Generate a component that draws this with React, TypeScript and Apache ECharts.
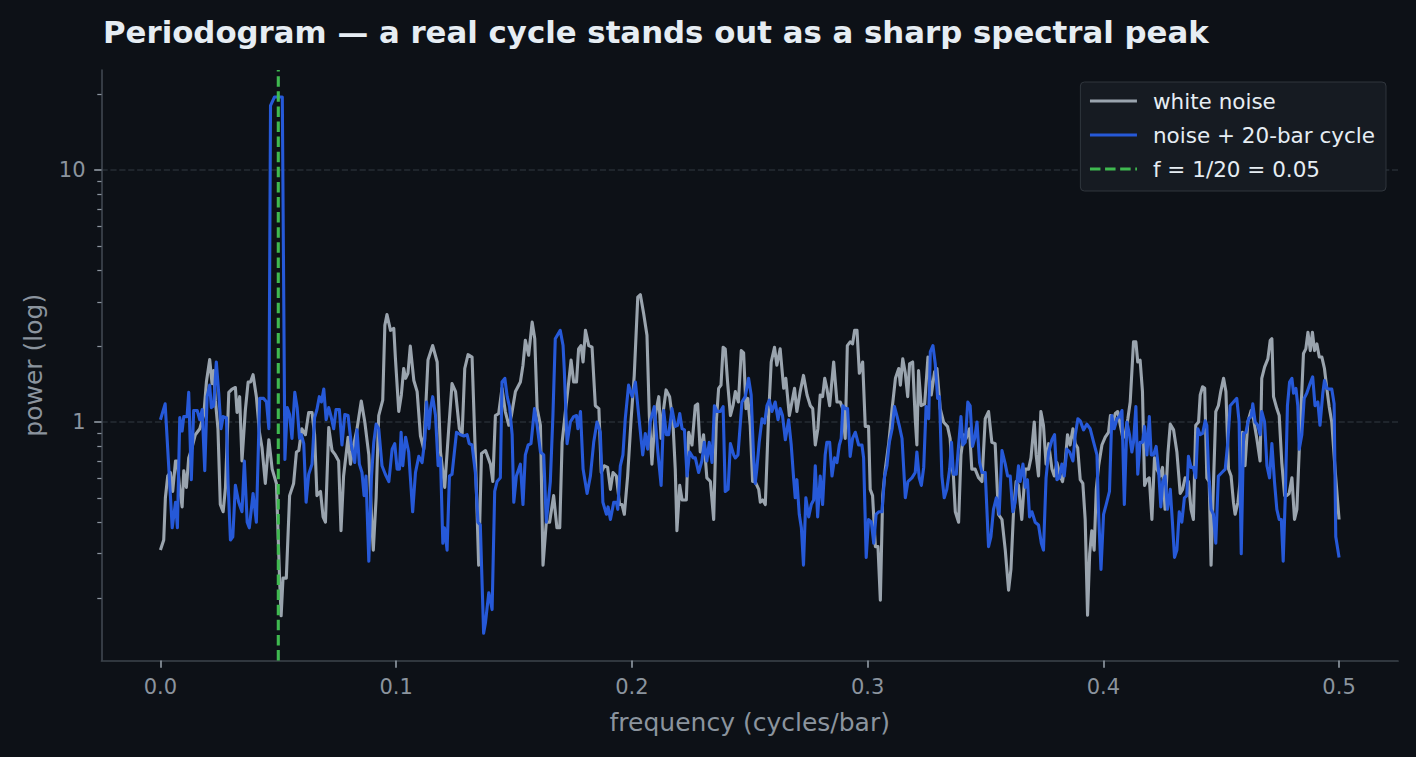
import React, { useEffect, useRef } from "react";
import * as echarts from "echarts";

// ---- data ----
const whiteFreq = [
  0.0, 0.0014, 0.0021, 0.0031, 0.0042, 0.0052, 0.0064, 0.0071, 0.0082, 0.0092, 0.0099, 0.011, 0.012, 0.0134, 0.0148,
  0.0167, 0.0184, 0.0195, 0.0209, 0.0219, 0.0226, 0.0233, 0.0244, 0.0254, 0.0266, 0.0276, 0.029, 0.0304, 0.0318, 0.0325,
  0.0336, 0.0346, 0.036, 0.0372, 0.0382, 0.0393, 0.0407, 0.042, 0.0431, 0.0445, 0.046, 0.0474, 0.0492, 0.0506, 0.0512,
  0.052, 0.0534, 0.0548, 0.0565, 0.0577, 0.0587, 0.06, 0.0615, 0.0629, 0.0643, 0.0654, 0.0664, 0.0679, 0.069, 0.07,
  0.0714, 0.0728, 0.0742, 0.0756, 0.0766, 0.0777, 0.0796, 0.0806, 0.0816, 0.0834, 0.0852, 0.0867, 0.0884, 0.0895, 0.0903,
  0.0915, 0.0926, 0.0943, 0.0952, 0.0961, 0.0976, 0.099, 0.0997, 0.1011, 0.1022, 0.1032, 0.104, 0.105, 0.106, 0.1075,
  0.1089, 0.1103, 0.1117, 0.1135, 0.1155, 0.1174, 0.1188, 0.1206, 0.1223, 0.1237, 0.1252, 0.1268, 0.128, 0.1291, 0.1305,
  0.1322, 0.1336, 0.135, 0.1362, 0.1379, 0.14, 0.141, 0.1421, 0.1435, 0.1449, 0.1463, 0.1478, 0.1489, 0.1506, 0.1527,
  0.1538, 0.1548, 0.1562, 0.1577, 0.1588, 0.1598, 0.1612, 0.1623, 0.1637, 0.1651, 0.1668, 0.1682, 0.1694, 0.1704, 0.1718,
  0.1732, 0.1742, 0.1753, 0.1765, 0.1774, 0.1784, 0.1793, 0.1803, 0.1817, 0.1831, 0.1845, 0.186, 0.187, 0.1883, 0.1897,
  0.1909, 0.192, 0.1934, 0.1948, 0.1958, 0.1968, 0.1982, 0.1996, 0.201, 0.2025, 0.2036, 0.205, 0.2064, 0.2074, 0.2085,
  0.2099, 0.2114, 0.2124, 0.2132, 0.2145, 0.216, 0.2174, 0.2184, 0.2191, 0.2203, 0.2213, 0.2231, 0.2241, 0.2255, 0.2269,
  0.2279, 0.229, 0.2304, 0.2318, 0.2333, 0.2347, 0.2358, 0.2368, 0.2378, 0.2387, 0.2396, 0.2406, 0.2418, 0.2429, 0.2439,
  0.2452, 0.2464, 0.2474, 0.2484, 0.2492, 0.2502, 0.2512, 0.2523, 0.2538, 0.2545, 0.2555, 0.2566, 0.258, 0.2591, 0.2605,
  0.2615, 0.2629, 0.2644, 0.2653, 0.2668, 0.2679, 0.269, 0.27, 0.2714, 0.2728, 0.2743, 0.2757, 0.2767, 0.2778, 0.2789,
  0.2799, 0.2809, 0.2818, 0.2827, 0.2839, 0.2856, 0.287, 0.2884, 0.2894, 0.2905, 0.2914, 0.2926, 0.2936, 0.2945, 0.2955,
  0.2965, 0.2979, 0.299, 0.3004, 0.3011, 0.3021, 0.3033, 0.3044, 0.3054, 0.3064, 0.3075, 0.309, 0.3104, 0.3118, 0.3132,
  0.3139, 0.3149, 0.316, 0.317, 0.3178, 0.3191, 0.3202, 0.3209, 0.3216, 0.3227, 0.3242, 0.3256, 0.327, 0.3284, 0.3294,
  0.3308, 0.3322, 0.3339, 0.335, 0.3357, 0.3364, 0.3372, 0.3386, 0.3396, 0.3407, 0.3418, 0.3432, 0.3442, 0.3456, 0.3471,
  0.3485, 0.3499, 0.3513, 0.3527, 0.3541, 0.3555, 0.357, 0.3584, 0.3598, 0.3608, 0.3619, 0.363, 0.364, 0.3654, 0.3669,
  0.3683, 0.3693, 0.3707, 0.3715, 0.3725, 0.3735, 0.3746, 0.3757, 0.3768, 0.3782, 0.3792, 0.3803, 0.3817, 0.3827, 0.3838,
  0.3848, 0.3859, 0.3871, 0.3881, 0.3891, 0.3902, 0.3913, 0.3923, 0.3933, 0.3942, 0.3951, 0.3961, 0.397, 0.398, 0.3994,
  0.4008, 0.4022, 0.403, 0.4041, 0.4051, 0.4061, 0.4072, 0.4083, 0.4093, 0.4104, 0.4114, 0.4128, 0.4138, 0.4146, 0.4156,
  0.4166, 0.4175, 0.4185, 0.4195, 0.4206, 0.4217, 0.4227, 0.4241, 0.4251, 0.4262, 0.4274, 0.4284, 0.4298, 0.4312, 0.4326,
  0.4336, 0.4347, 0.4361, 0.4372, 0.4382, 0.4392, 0.4404, 0.4411, 0.4421, 0.443, 0.4439, 0.4449, 0.4457, 0.4467, 0.4477,
  0.4488, 0.4498, 0.451, 0.452, 0.4531, 0.4542, 0.4552, 0.4559, 0.4571, 0.458, 0.459, 0.4601, 0.4613, 0.4627, 0.4637,
  0.4651, 0.4665, 0.4672, 0.4684, 0.4698, 0.4708, 0.4715, 0.4722, 0.4736, 0.4746, 0.4757, 0.4769, 0.4778, 0.4788, 0.48,
  0.4811, 0.4821, 0.4831, 0.484, 0.4849, 0.4859, 0.4868, 0.4878, 0.4887, 0.4896, 0.4906, 0.4916, 0.4927, 0.4938, 0.4948,
  0.4958, 0.4969, 0.4983, 0.5,
];
const whitePower = [
  0.31, 0.34, 0.5, 0.61, 0.63, 0.53, 0.7, 0.7, 0.54, 0.46, 0.64, 0.55, 0.72, 0.79, 0.89,
  0.94, 1.07, 1.44, 1.77, 1.42, 1.6, 1.22, 0.94, 0.47, 0.44, 0.55, 1.31, 1.35, 1.37, 1.09,
  1.26, 0.7, 1.11, 1.44, 1.44, 1.54, 1.26, 0.91, 0.79, 0.57, 0.85, 0.65, 0.57, 0.23, 0.17,
  0.24, 0.24, 0.51, 0.57, 0.76, 0.77, 0.94, 0.89, 1.09, 1.09, 0.89, 0.51, 0.53, 0.42, 0.4,
  0.95, 0.77, 0.74, 0.7, 0.37, 0.61, 0.87, 0.68, 0.78, 0.94, 1.21, 1.0, 0.74, 0.43, 0.31,
  0.5, 1.06, 1.22, 2.42, 2.67, 2.31, 2.35, 1.78, 1.1, 1.28, 1.63, 1.49, 1.56, 2.0, 1.46,
  1.32, 0.88, 0.78, 1.76, 2.01, 1.73, 0.76, 0.55, 0.94, 1.42, 1.32, 0.94, 0.9, 1.63, 1.85,
  1.81, 0.74, 0.27, 0.75, 0.77, 0.68, 0.58, 1.06, 1.08, 1.36, 1.1, 0.97, 1.06, 1.32, 1.44,
  1.68, 2.11, 1.84, 2.49, 2.14, 1.13, 0.97, 0.27, 0.4, 0.4, 0.51, 0.38, 0.38, 0.83, 1.1,
  1.44, 1.76, 1.44, 1.44, 1.95, 2.01, 1.73, 2.31, 2.01, 1.98, 1.16, 1.13, 0.63, 0.67, 0.66,
  0.54, 0.63, 0.61, 0.47, 0.47, 0.43, 0.61, 1.0, 1.53, 3.13, 3.2, 2.69, 2.21, 1.06, 0.68,
  1.06, 1.26, 0.86, 1.08, 1.34, 1.26, 1.0, 0.65, 0.37, 0.56, 0.49, 0.49, 0.91, 0.81, 1.16,
  1.18, 0.76, 0.89, 0.6, 0.58, 0.41, 1.0, 1.36, 1.4, 1.98, 1.95, 1.44, 1.06, 1.16, 1.32,
  1.2, 1.92, 1.88, 1.13, 1.24, 0.97, 0.58, 0.58, 0.54, 0.48, 0.49, 0.47, 1.06, 1.73, 1.98,
  1.68, 1.95, 1.36, 1.49, 1.06, 1.2, 1.36, 1.1, 1.32, 1.53, 1.28, 1.16, 1.13, 0.81, 0.94,
  1.28, 1.26, 1.49, 1.36, 1.16, 1.73, 1.2, 1.2, 1.13, 0.86, 2.01, 2.08, 2.04, 2.31, 2.31,
  1.56, 1.73, 0.96, 0.96, 0.54, 0.51, 0.32, 0.32, 0.196, 0.51, 0.65, 0.83, 1.13, 1.49, 1.63,
  1.4, 1.78, 1.56, 1.26, 1.7, 1.73, 1.03, 0.81, 1.6, 1.16, 1.18, 1.81, 1.28, 1.58, 1.63,
  1.13, 1.0, 0.96, 0.86, 0.67, 0.61, 0.44, 0.4, 0.74, 0.89, 0.86, 0.94, 0.65, 0.65, 0.6,
  0.58, 1.03, 1.1, 0.83, 0.82, 0.43, 0.41, 0.31, 0.215, 0.26, 0.44, 0.58, 0.56, 0.41, 0.65,
  0.65, 0.72, 1.0, 0.74, 0.61, 1.1, 0.97, 0.68, 0.82, 0.65, 0.61, 0.69, 0.61, 0.58, 0.69,
  0.89, 0.81, 0.94, 0.82, 0.79, 0.59, 0.57, 0.41, 0.171, 0.3, 0.37, 0.31, 0.54, 0.67, 0.81,
  0.87, 0.91, 1.06, 1.0, 1.08, 1.1, 0.97, 0.86, 0.9, 1.03, 1.2, 2.08, 2.08, 1.73, 1.76,
  1.32, 0.56, 0.59, 0.6, 0.41, 0.72, 0.65, 0.61, 0.66, 0.45, 0.75, 0.98, 0.93, 0.76, 0.52,
  0.54, 0.6, 0.58, 0.45, 0.41, 0.97, 1.0, 1.28, 1.38, 1.36, 0.6, 0.58, 0.27, 0.56, 1.1,
  1.16, 1.32, 1.49, 1.32, 0.65, 0.61, 0.48, 0.43, 0.48, 0.58, 0.91, 0.67, 1.0, 1.11, 1.03,
  0.86, 0.7, 1.49, 1.65, 1.78, 2.11, 2.14, 1.26, 1.13, 1.06, 0.69, 0.51, 0.51, 0.52, 0.6,
  0.41, 0.45, 0.77, 1.2, 1.87, 1.95, 2.27, 1.92, 2.27, 1.92, 2.04, 1.81, 1.81, 1.63, 1.36,
  1.15, 1.0, 0.65, 0.41,
];

const cycleFreq = [
  0.0, 0.002, 0.005, 0.0064, 0.0072, 0.0082, 0.0092, 0.0099, 0.0113, 0.012, 0.0131, 0.0141, 0.0156, 0.0167, 0.0177,
  0.0188, 0.0198, 0.0209, 0.0216, 0.0226, 0.0237, 0.0247, 0.0257, 0.0266, 0.028, 0.0287, 0.0297, 0.0307, 0.0318, 0.0332,
  0.0346, 0.0356, 0.0368, 0.0377, 0.0393, 0.0407, 0.0421, 0.0438, 0.045, 0.046, 0.0467, 0.0484, 0.0517, 0.0528, 0.0538,
  0.0548, 0.0558, 0.057, 0.058, 0.059, 0.0598, 0.0608, 0.0618, 0.0629, 0.0643, 0.0654, 0.0664, 0.0674, 0.0683, 0.0693,
  0.0703, 0.0714, 0.0725, 0.0735, 0.0745, 0.0759, 0.077, 0.0782, 0.0796, 0.081, 0.0824, 0.0834, 0.0844, 0.0855, 0.0864,
  0.0872, 0.0884, 0.0895, 0.0905, 0.0915, 0.0926, 0.094, 0.0954, 0.0969, 0.0983, 0.0994, 0.1004, 0.1014, 0.1021, 0.1028,
  0.104, 0.1053, 0.107, 0.1082, 0.1096, 0.111, 0.1122, 0.1129, 0.1139, 0.1146, 0.1155, 0.1167, 0.1178, 0.1188, 0.1198,
  0.1205, 0.1216, 0.1226, 0.1237, 0.1256, 0.1273, 0.1287, 0.1301, 0.131, 0.1322, 0.1336, 0.1347, 0.1357, 0.1371, 0.1379,
  0.1393, 0.1407, 0.1418, 0.1428, 0.1442, 0.1449, 0.1461, 0.1471, 0.1481, 0.1492, 0.1499, 0.151, 0.1527, 0.1538, 0.1548,
  0.156, 0.1572, 0.1587, 0.1598, 0.1612, 0.1626, 0.1637, 0.1654, 0.1665, 0.1675, 0.1696, 0.1708, 0.1713, 0.1725, 0.1739,
  0.1753, 0.1765, 0.1771, 0.1782, 0.1793, 0.181, 0.1824, 0.1838, 0.1852, 0.1866, 0.1877, 0.1892, 0.1899, 0.1909, 0.1923,
  0.1934, 0.194, 0.1951, 0.1962, 0.1972, 0.1986, 0.2001, 0.2015, 0.2029, 0.2046, 0.2057, 0.2067, 0.2078, 0.2095, 0.211,
  0.2124, 0.2135, 0.2146, 0.2156, 0.217, 0.2184, 0.2194, 0.2203, 0.2213, 0.2223, 0.2234, 0.2245, 0.226, 0.2269, 0.2283,
  0.2297, 0.2307, 0.2318, 0.2328, 0.234, 0.235, 0.2361, 0.2375, 0.2387, 0.2396, 0.2408, 0.2418, 0.2432, 0.2439, 0.245,
  0.2467, 0.2481, 0.2495, 0.2506, 0.2516, 0.2523, 0.253, 0.254, 0.2552, 0.2563, 0.2573, 0.2583, 0.2594, 0.2608, 0.262,
  0.2629, 0.2639, 0.2651, 0.2665, 0.2676, 0.2686, 0.2693, 0.27, 0.271, 0.2719, 0.2728, 0.2738, 0.275, 0.2761, 0.2771,
  0.2778, 0.2788, 0.2799, 0.2809, 0.282, 0.2827, 0.2839, 0.2849, 0.286, 0.287, 0.288, 0.2888, 0.2895, 0.2905, 0.2915,
  0.2926, 0.2936, 0.2948, 0.2962, 0.2976, 0.2983, 0.2994, 0.3004, 0.3016, 0.3026, 0.3036, 0.3047, 0.3061, 0.3072, 0.3082,
  0.3092, 0.3104, 0.3114, 0.3124, 0.3134, 0.3146, 0.316, 0.3171, 0.3188, 0.3202, 0.3209, 0.3219, 0.3228, 0.3238, 0.3248,
  0.3259, 0.3266, 0.3277, 0.3287, 0.3297, 0.3305, 0.3315, 0.3325, 0.3336, 0.3348, 0.3356, 0.3364, 0.3376, 0.3386, 0.3396,
  0.3404, 0.3414, 0.3425, 0.3435, 0.3445, 0.3454, 0.3464, 0.3475, 0.3485, 0.3499, 0.3513, 0.3523, 0.3534, 0.3546, 0.3558,
  0.357, 0.3584, 0.3594, 0.3605, 0.3616, 0.3626, 0.364, 0.3647, 0.3659, 0.3669, 0.3678, 0.3687, 0.3697, 0.3711, 0.3725,
  0.3737, 0.3746, 0.3757, 0.3768, 0.3782, 0.3793, 0.3803, 0.3814, 0.3824, 0.3834, 0.3845, 0.3857, 0.3871, 0.3881, 0.3892,
  0.3902, 0.3916, 0.393, 0.3944, 0.3959, 0.3973, 0.398, 0.399, 0.4001, 0.4012, 0.4026, 0.4036, 0.4046, 0.4058, 0.4068,
  0.4079, 0.4089, 0.41, 0.4111, 0.4121, 0.4128, 0.4138, 0.4146, 0.4156, 0.4166, 0.4175, 0.4185, 0.4195, 0.4203, 0.4213,
  0.4224, 0.4234, 0.4244, 0.4252, 0.4262, 0.4272, 0.4284, 0.4293, 0.4302, 0.4312, 0.4322, 0.4333, 0.4344, 0.4354, 0.4361,
  0.4372, 0.4382, 0.4392, 0.4401, 0.4411, 0.4421, 0.4432, 0.4439, 0.4446, 0.4457, 0.4467, 0.4477, 0.4488, 0.4503, 0.4517,
  0.4528, 0.4538, 0.4552, 0.4566, 0.4576, 0.4585, 0.4595, 0.4605, 0.4616, 0.4627, 0.4634, 0.4644, 0.4655, 0.4665, 0.4672,
  0.4684, 0.4694, 0.4705, 0.4715, 0.4726, 0.4736, 0.4746, 0.4755, 0.4763, 0.4772, 0.4781, 0.479, 0.48, 0.4807, 0.4817,
  0.4825, 0.4831, 0.4842, 0.4852, 0.4863, 0.4877, 0.4888, 0.4898, 0.491, 0.4919, 0.4931, 0.4938, 0.4948, 0.4958, 0.4969,
  0.4979, 0.4986, 0.5,
];
const cyclePower = [
  1.02, 1.18, 0.38, 0.48, 0.38, 1.04, 0.92, 1.05, 1.05, 1.31, 0.59, 1.11, 1.11, 1.02, 1.12,
  0.64, 1.26, 1.4, 1.14, 1.16, 1.73, 1.31, 0.94, 1.05, 1.04, 0.57, 0.34, 0.35, 0.56, 0.48,
  0.44, 0.7, 0.4, 0.38, 0.52, 0.4, 1.24, 1.24, 1.2, 0.94, 18.0, 19.5, 19.5, 0.71, 1.14,
  1.07, 0.86, 1.31, 1.14, 0.86, 0.89, 0.82, 0.48, 0.62, 0.68, 1.04, 1.12, 1.26, 1.2, 1.35,
  1.02, 1.14, 1.04, 0.94, 1.12, 1.12, 0.81, 1.07, 1.06, 0.81, 0.69, 0.93, 0.68, 0.63, 0.51,
  0.61, 0.28, 0.6, 0.83, 0.98, 0.94, 0.67, 0.62, 0.58, 0.78, 0.82, 0.65, 0.65, 0.91, 0.67,
  0.87, 0.76, 0.44, 0.63, 0.73, 0.69, 0.86, 1.2, 0.94, 1.13, 1.26, 1.06, 0.67, 0.72, 0.33,
  0.38, 0.31, 0.61, 0.62, 0.91, 0.89, 0.88, 0.89, 0.82, 0.81, 0.63, 0.4, 0.39, 0.145, 0.16,
  0.21, 0.18, 0.53, 0.58, 0.6, 1.44, 1.49, 1.26, 1.15, 0.89, 0.48, 0.61, 0.68, 0.47, 0.74,
  0.81, 0.82, 1.13, 0.97, 0.76, 0.74, 0.4, 0.58, 1.06, 2.14, 2.31, 2.01, 1.63, 0.82, 1.0,
  1.05, 1.06, 0.94, 1.1, 0.65, 0.52, 0.61, 0.83, 1.0, 0.91, 0.48, 0.43, 0.46, 0.41, 0.48,
  0.48, 0.45, 0.67, 0.74, 1.03, 1.4, 1.26, 1.44, 1.06, 0.74, 0.9, 0.78, 1.0, 1.15, 0.76,
  0.56, 1.11, 0.89, 0.89, 1.13, 0.96, 0.97, 1.08, 0.94, 0.93, 0.61, 0.76, 0.72, 0.72, 0.63,
  0.7, 0.83, 0.7, 0.83, 0.69, 1.16, 1.1, 1.1, 1.15, 0.53, 0.54, 0.82, 0.74, 0.72, 0.74,
  1.2, 1.26, 1.49, 1.28, 0.74, 0.57, 0.65, 0.83, 1.03, 0.99, 1.16, 1.22, 1.1, 1.2, 1.02,
  1.13, 1.06, 0.85, 1.02, 0.81, 0.6, 0.5, 0.59, 0.43, 0.38, 0.27, 0.5, 0.42, 0.47, 0.49,
  0.67, 0.42, 0.61, 0.47, 0.74, 0.83, 0.83, 0.61, 0.72, 0.69, 0.81, 0.86, 1.16, 1.13, 1.13,
  0.73, 0.86, 0.91, 0.81, 0.81, 0.72, 0.29, 0.41, 0.4, 0.33, 0.43, 0.44, 0.44, 0.61, 0.67,
  0.83, 0.94, 1.15, 1.06, 0.97, 0.86, 0.5, 0.58, 0.6, 0.63, 0.76, 0.6, 0.56, 0.66, 1.15,
  1.03, 1.9, 2.01, 1.7, 1.24, 1.26, 0.61, 0.5, 0.54, 0.65, 0.83, 0.62, 0.62, 0.81, 1.05,
  0.81, 0.83, 1.2, 1.16, 0.8, 0.86, 1.0, 0.69, 0.63, 0.63, 0.32, 0.35, 0.45, 0.5, 0.43,
  0.77, 0.68, 0.61, 0.61, 0.44, 0.48, 0.67, 0.58, 0.68, 0.55, 0.59, 0.42, 0.44, 0.4, 0.39,
  0.33, 0.31, 0.6, 0.76, 0.85, 0.89, 0.59, 0.6, 0.68, 0.61, 0.78, 0.76, 0.7, 0.89, 1.03,
  1.01, 0.93, 0.98, 0.94, 0.83, 0.74, 0.43, 0.26, 0.43, 0.47, 0.53, 1.06, 0.94, 1.03, 1.05,
  1.11, 0.47, 1.0, 0.89, 0.76, 0.83, 1.15, 0.62, 0.83, 0.83, 0.96, 0.74, 1.05, 0.74, 0.74,
  0.8, 0.65, 0.46, 0.58, 0.61, 0.45, 0.54, 0.4, 0.29, 0.31, 0.44, 0.4, 0.5, 0.51, 0.73,
  0.66, 0.66, 0.6, 0.94, 0.89, 0.9, 1.01, 0.97, 0.65, 0.45, 0.43, 0.33, 0.61, 0.63, 0.65,
  0.83, 1.16, 1.2, 1.24, 1.0, 0.3, 0.9, 0.91, 1.03, 1.05, 1.18, 1.0, 0.97, 0.89, 1.1,
  1.0, 0.67, 0.6, 0.82, 0.58, 0.45, 0.41, 0.41, 0.28, 0.51, 1.16, 1.44, 1.49, 1.3, 1.36,
  1.16, 0.78, 0.89, 1.24, 1.3, 1.42, 1.51, 1.16, 1.2, 0.97, 1.3, 1.46, 1.36, 1.35, 1.35,
  1.18, 0.35, 0.29,
];

const cycleFrequency = 0.05; // f = 1/20
const xTicks = [0, 0.1, 0.2, 0.3, 0.4, 0.5];
const yMajorTicks = [1, 10];
const yMinorTicks = [0.2, 0.3, 0.4, 0.5, 0.6, 0.7, 0.8, 0.9, 2, 3, 4, 5, 6, 7, 8, 9, 20];
const xRange = [-0.025, 0.525];
const yRange = [0.113, 24.95];

const seriesNames = ["white noise", "noise + 20-bar cycle", "f = 1/20 = 0.05"];

const FONT = "DejaVu Sans";
const BG = "#0d1117";
const SPINE = "#3d444d";
const MUTED = "#8b949e";
const TEXT = "#e6edf3";
const GRAY = "#9aa4ae";
const BLUE = "#2659d8";
const GREEN = "#3fb950";
const LINE_W = 3.1;

export default function App() {
  const ref = useRef<HTMLDivElement>(null);

  useEffect(() => {
    document.body.style.margin = "0";
    document.body.style.background = BG;
    const chart = echarts.init(ref.current as HTMLDivElement, null, { renderer: "svg" });
    const lg = (v: number) => Math.log10(v);
    const yMin = lg(yRange[0]);
    const yMax = lg(yRange[1]);

    const whiteData = whiteFreq.map((f, i) => [f, lg(whitePower[i])]);
    const cycleData = cycleFreq.map((f, i) => [f, lg(cyclePower[i])]);
    const vlineData = [
      [cycleFrequency, yMin],
      [cycleFrequency, yMax],
    ];

    const option: any = {
      animation: false,
      backgroundColor: BG,
      textStyle: { fontFamily: FONT },
      title: {
        text: "Periodogram — a real cycle stands out as a sharp spectral peak",
        left: 103,
        top: 16,
        padding: 0,
        textStyle: { fontFamily: FONT, fontSize: 30.8, fontWeight: "bold", color: TEXT },
      },
      legend: {
        orient: "vertical",
        right: 30,
        top: 82,
        padding: [8, 11, 11, 8],
        backgroundColor: "#161b22",
        borderColor: "#30363d",
        borderWidth: 1,
        borderRadius: 4,
        itemWidth: 47,
        itemHeight: 14,
        itemGap: 12,
        data: seriesNames,
        itemStyle: { opacity: 0 },
        lineStyle: { width: LINE_W },
        textStyle: { fontFamily: FONT, fontSize: 21.5, color: TEXT, padding: [0, 0, 0, 11] },
      },
      grid: {
        left: 101.5,
        right: 18,
        top: 70,
        bottom: 96.5,
        containLabel: false,
        outerBoundsMode: "none",
      },
      xAxis: {
        type: "value",
        min: xRange[0],
        max: xRange[1],
        name: "frequency (cycles/bar)",
        nameLocation: "middle",
        nameGap: 49,
        nameTextStyle: { fontFamily: FONT, fontSize: 25, color: MUTED },
        axisLine: { show: true, onZero: false, lineStyle: { color: SPINE, width: 1.7 } },
        axisTick: { show: true, length: 7.3, customValues: xTicks, lineStyle: { color: MUTED, width: 1.7 } },
        axisLabel: {
          show: true,
          customValues: xTicks,
          margin: 16,
          fontFamily: FONT,
          fontSize: 21,
          color: MUTED,
          formatter: (v: number) => v.toFixed(1),
        },
        splitLine: { show: false },
      },
      yAxis: [
        {
          type: "value",
          min: yMin,
          max: yMax,
          name: "power (log)",
          nameLocation: "middle",
          nameGap: 56,
          nameTextStyle: { fontFamily: FONT, fontSize: 25, color: MUTED },
          axisLine: { show: true, onZero: false, lineStyle: { color: SPINE, width: 1.7 } },
          axisTick: {
            show: true,
            length: 7.3,
            customValues: yMajorTicks.map(lg),
            lineStyle: { color: MUTED, width: 1.7 },
          },
          axisLabel: {
            show: true,
            customValues: yMajorTicks.map(lg),
            margin: 16,
            fontFamily: FONT,
            fontSize: 21,
            color: MUTED,
            formatter: (v: number) => String(Math.round(Math.pow(10, v))),
          },
          splitLine: {
            show: true,
            lineStyle: { color: "#262c35", width: 1.5, type: [6.2, 2.7] },
          },
        },
        {
          type: "value",
          min: yMin,
          max: yMax,
          position: "left",
          axisLine: { show: false, onZero: false },
          axisLabel: { show: false },
          splitLine: { show: false },
          axisTick: {
            show: true,
            length: 4.2,
            customValues: yMinorTicks.map(lg),
            lineStyle: { color: MUTED, width: 1.25 },
          },
        },
      ],
      series: [
        {
          name: seriesNames[0],
          type: "line",
          data: whiteData,
          showSymbol: false,
          symbol: "none",
          color: GRAY,
          lineStyle: { color: GRAY, width: LINE_W, join: "round" },
          z: 2,
        },
        {
          name: seriesNames[1],
          type: "line",
          data: cycleData,
          showSymbol: false,
          symbol: "none",
          color: BLUE,
          lineStyle: { color: BLUE, width: LINE_W, join: "round" },
          z: 3,
        },
        {
          name: seriesNames[2],
          type: "line",
          data: vlineData,
          showSymbol: false,
          symbol: "none",
          color: GREEN,
          lineStyle: { color: GREEN, width: LINE_W, type: [10.5, 4.6] },
          z: 4,
        },
      ],
    };

    chart.setOption(option);
    return () => chart.dispose();
  }, []);

  return <div ref={ref} style={{ width: 1416, height: 757 }} />;
}
